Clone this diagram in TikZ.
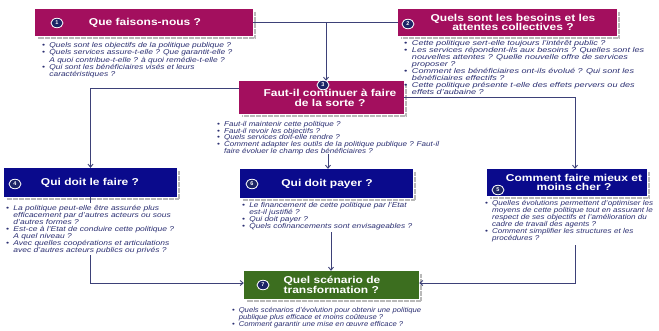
\documentclass[tikz,border=0pt]{standalone}
\usepackage{fontspec}
\setmainfont{Liberation Sans}
\newfontfamily\ttlfont{Liberation Sans}[FakeStretch=1.2]
\usetikzlibrary{arrows.meta}
\definecolor{mag}{HTML}{A30F5E}
\definecolor{navybox}{HTML}{0A0A8C}
\definecolor{greenbox}{HTML}{3C6E1F}
\definecolor{numfill}{HTML}{1C2466}
\definecolor{txt}{HTML}{2B2F72}
\definecolor{conncol}{HTML}{3D4178}
\newcommand\bu{\makebox[6pt][l]{•}}
\newcommand\nb{\hspace*{6pt}}
\newcommand\blk[2]{\resizebox{#1pt}{\height}{\begin{tabular}[t]{@{}l@{}}#2\end{tabular}}}
\tikzset{
  box/.style={draw=none, fill=#1, inner sep=0pt},
  ttl/.style={text=white, font=\ttlfont\fontsize{10}{9.5}\selectfont\bfseries, align=center, inner sep=0pt},
  num/.style={ellipse, fill=numfill, draw=white, line width=0.8pt, minimum width=12pt, minimum height=9.5pt, inner sep=0pt, text=white, font=\fontsize{5.5}{6}\selectfont\bfseries},
  bul/.style={anchor=north west, inner sep=0pt, align=left, text=txt, font=\fontsize{7}{6.6}\selectfont\itshape},
  conn/.style={draw=conncol, line width=0.9pt},
  arr/.style={conn, -{Straight Barb[length=3pt,width=5pt]}},
  shad/.style={draw=gray!55, line width=2.5pt, dash pattern=on 0.6pt off 0.6pt}
}
\usetikzlibrary{shapes.geometric}
\newcommand\shadow[1]{\draw[shad] ([xshift=2pt,yshift=-3pt]#1.north east) -- ([xshift=2pt,yshift=-2pt]#1.south east) -- ([xshift=3pt,yshift=-2pt]#1.south west);}
\begin{document}
\begin{tikzpicture}[x=1pt,y=-1pt]
\useasboundingbox (0,0) rectangle (659,330);
\fill[white] (0,0) rectangle (659,330);

% box positions
\coordinate (c1) at (144,22.5);
\coordinate (c2) at (507.5,22.5);
\coordinate (c3) at (321.5,97.5);
\coordinate (c4) at (90.5,182.5);
\coordinate (c6) at (326.5,183.5);
\coordinate (c5) at (567,182.5);
\coordinate (c7) at (331.5,285);

% shadows (drawn from invisible helper nodes)
\node[minimum width=218pt, minimum height=27pt, inner sep=0pt] (h1) at (c1) {};
\node[minimum width=219pt, minimum height=27pt, inner sep=0pt] (h2) at (c2) {};
\node[minimum width=165pt, minimum height=33pt, inner sep=0pt] (h3) at (c3) {};
\node[minimum width=173pt, minimum height=29pt, inner sep=0pt] (h4) at (c4) {};
\node[minimum width=173pt, minimum height=29pt, inner sep=0pt] (h6) at (c6) {};
\node[minimum width=160pt, minimum height=27pt, inner sep=0pt] (h5) at (c5) {};
\node[minimum width=175pt, minimum height=28pt, inner sep=0pt] (h7) at (c7) {};
\shadow{h1}\shadow{h2}\shadow{h3}\shadow{h4}\shadow{h6}\shadow{h5}\shadow{h7}

% boxes
\node[box=mag, minimum width=218pt, minimum height=27pt] (b1) at (c1) {};
\node[box=mag, minimum width=219pt, minimum height=27pt] (b2) at (c2) {};
\node[box=mag, minimum width=165pt, minimum height=33pt] (b3) at (c3) {};
\node[box=navybox, minimum width=173pt, minimum height=29pt] (b4) at (c4) {};
\node[box=navybox, minimum width=173pt, minimum height=29pt] (b6) at (c6) {};
\node[box=navybox, minimum width=160pt, minimum height=27pt] (b5) at (c5) {};
\node[box=greenbox, minimum width=175pt, minimum height=28pt] (b7) at (c7) {};

% titles
\node[ttl] (t1) at (145,23) {Que faisons-nous ?};
\node[ttl] (t2) at (513,22.5) {Quels sont les besoins et les\\attentes collectives ?};
\node[ttl] (t3) at (330,98) {Faut-il continuer à faire\\de la sorte ?};
\node[ttl] (t4) at (90,183) {Qui doit le faire ?};
\node[ttl] (t6) at (327,184) {Qui doit payer ?};
\node[ttl] (t5) at (574,182.5) {Comment faire mieux et\\moins cher ?};
\node[ttl, align=left] (t7) at (332,285) {Quel scénario de\\transformation ?};

% connectors
\coordinate (j) at (326,22.5);
\draw[conn] (b1.east) -- (j);
\draw[conn] (b2.west) -- (j);
\draw[arr] (j) -- (j |- b3.north);
\draw[arr] ([yshift=9.5pt]b3.west) -| (b4.north);
\draw[arr] (b3.east) -| ([xshift=8pt]b5.north);
\coordinate (m) at (328,154);
\draw[arr] (m) -- (m |- b6.north);
\coordinate (s4) at (90.5,203);
\draw[conn] (b4.south) -- (s4);
\coordinate (l4) at (90.5,255);
\draw[arr] (l4) |- ([yshift=2pt]b7.west);
\coordinate (l6) at (331,232);
\draw[arr] (l6) -- (l6 |- b7.north);
\coordinate (l5) at (575,245);
\draw[arr] (l5) |- ([yshift=2pt]b7.east);

% numbers
\node[num] (n1) at (57,23) {1};
\node[num] (n2) at (408,24) {2};
\node[num] (n3) at (323,85) {3};
\node[num] (n4) at (15,184) {4};
\node[num] (n6) at (252,184) {6};
\node[num] (n5) at (498,190) {5};
\node[num] (n7) at (263,285) {7};

% bullet texts
\node[bul, font=\fontsize{7}{7}\selectfont\itshape] (q1) at (42,42.5) {\blk{190}{\bu Quels sont les objectifs de la politique publique ?\\
\bu Quels services assure-t-elle ? Que garantit-elle ?\\
\nb A quoi contribue-t-elle ? à quoi remédie-t-elle ?\\
\bu Qui sont les bénéficiaires visés et leurs\\
\nb caractéristiques ?}};

\node[bul, font=\fontsize{7}{6.4}\selectfont\itshape] (q2) at (404,40) {\blk{240}{\bu Cette politique sert-elle toujours l'intérêt public ?\\
\bu Les services répondent-ils aux besoins ? Quelles sont les\\
\nb nouvelles attentes ? Quelle nouvelle offre de services\\
\nb proposer ?\\
\bu Comment les bénéficiaires ont-ils évolué ? Qui sont les\\
\nb bénéficiaires effectifs ?\\
\bu Cette politique présente t-elle des effets pervers ou des\\
\nb effets d'aubaine ?}};

\node[bul, font=\fontsize{7}{5.8}\selectfont\itshape] (q3) at (217,121) {\blk{222}{\bu Faut-il maintenir cette politique ?\\
\bu Faut-il revoir les objectifs ?\\
\bu Quels services doit-elle rendre ?\\
\bu Comment adapter les outils de la politique publique ? Faut-il\\
\nb faire évoluer le champ des bénéficiaires ?}};

\node[bul] (q4) at (6,205) {\blk{168}{\bu La politique peut-elle être assurée plus\\
\nb efficacement par d'autres acteurs ou sous\\
\nb d'autres formes ?\\
\bu Est-ce à l'Etat de conduire cette politique ?\\
\nb A quel niveau ?\\
\bu Avec quelles coopérations et articulations\\
\nb avec d'autres acteurs publics ou privés ?}};

\node[bul, font=\fontsize{7}{7}\selectfont\itshape] (q6) at (242,202) {\blk{170}{\bu Le financement de cette politique par l'Etat\\
\nb est-il justifié ?\\
\bu Qui doit payer ?\\
\bu Quels cofinancements sont envisageables ?}};

\node[bul, font=\fontsize{7}{6.2}\selectfont\itshape] (q5) at (485,200) {\blk{168}{\bu Quelles évolutions permettent d'optimiser les\\
\nb moyens de cette politique tout en assurant le\\
\nb respect de ses objectifs et l'amélioration du\\
\nb cadre de travail des agents ?\\
\bu Comment simplifier les structures et les\\
\nb procédures ?}};

\node[bul, font=\fontsize{7}{5.8}\selectfont\itshape] (q7) at (232,307) {\blk{189}{\bu Quels scénarios d'évolution pour obtenir une politique\\
\nb publique plus efficace et moins coûteuse ?\\
\bu Comment garantir une mise en œuvre efficace ?}};
\end{tikzpicture}
\end{document}
